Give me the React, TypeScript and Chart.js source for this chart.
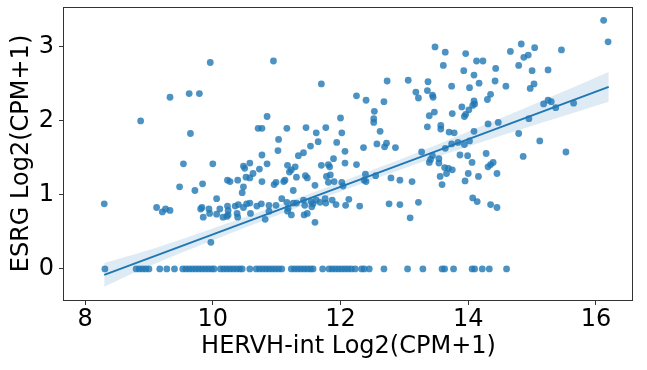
import React, { useEffect, useRef } from "react";
import { Chart, registerables } from "chart.js";

Chart.register(...registerables);

// Axis ticks
const xTicks = [8, 10, 12, 14, 16];
const yTicks = [0, 1, 2, 3];

// Scatter points with non-zero ESRG: [HERVH-int, ESRG]
const scatterPoints: [number, number][] = [
  [9.96, 2.79], [9.63, 2.37], [9.79, 2.37], [9.33, 2.32], [8.87, 2.0], [9.65, 1.83],
  [9.54, 1.42], [10.0, 1.42], [9.48, 1.11], [9.84, 1.15], [9.72, 1.06], [8.3, 0.88],
  [9.12, 0.83], [9.21, 0.77], [9.26, 0.81], [9.33, 0.79], [10.06, 0.95], [9.81, 0.81],
  [9.83, 0.83], [9.94, 0.81], [9.85, 0.7], [9.95, 0.75], [10.06, 0.74], [9.97, 0.36],
  [10.95, 2.81], [11.7, 2.5], [10.85, 2.06], [10.71, 1.9], [10.77, 1.9], [11.16, 1.9],
  [11.46, 1.91], [11.77, 1.91], [12.0, 2.04], [12.02, 1.84], [11.62, 1.84], [11.03, 1.75],
  [11.02, 1.6], [11.65, 1.72], [11.94, 1.71], [11.53, 1.66], [10.77, 1.54], [11.42, 1.57],
  [11.34, 1.53], [12.07, 1.59], [10.85, 1.42], [10.48, 1.39], [10.5, 1.36], [10.58, 1.43],
  [10.63, 1.29], [10.52, 1.24], [10.58, 1.23], [10.73, 1.35], [10.23, 1.2], [10.27, 1.18],
  [10.39, 1.2], [10.48, 1.11], [10.46, 1.03], [10.77, 1.18], [10.96, 1.14], [10.99, 1.17],
  [11.11, 1.18], [11.13, 1.2], [11.17, 1.4], [11.23, 1.34], [11.29, 1.38], [11.2, 1.31],
  [11.31, 1.24], [11.26, 1.06], [11.45, 1.26], [11.48, 1.23], [11.6, 1.13], [11.7, 1.4],
  [11.81, 1.41], [11.83, 1.38], [11.89, 1.49], [11.78, 1.25], [11.84, 1.27], [11.81, 1.17],
  [11.9, 1.18], [12.02, 1.17], [10.16, 0.7], [10.22, 0.71], [10.11, 0.81], [10.24, 0.79],
  [10.35, 0.85], [10.4, 0.87], [10.48, 0.83], [10.53, 0.88], [10.58, 0.89], [10.38, 0.75],
  [10.39, 0.7], [10.59, 0.75], [10.69, 0.85], [10.76, 0.88], [10.82, 0.67], [10.88, 0.86],
  [10.88, 0.78], [10.99, 0.86], [11.08, 0.95], [11.16, 0.9], [11.18, 0.82], [11.17, 0.78],
  [11.26, 0.89], [11.31, 0.89], [11.23, 0.73], [11.42, 0.93], [11.44, 0.86], [11.43, 0.73],
  [11.54, 0.91], [11.57, 0.88], [11.62, 0.93], [11.68, 0.9], [11.76, 0.95], [11.77, 0.89],
  [11.87, 0.93], [11.93, 0.87], [12.08, 0.86], [12.13, 0.94], [11.6, 0.63], [10.23, 0.85],
  [10.24, 0.73], [11.48, 0.75], [11.55, 0.84],
  [13.48, 3.0], [13.64, 2.93], [13.96, 2.91], [14.13, 2.81], [13.61, 2.75], [13.93, 2.68],
  [14.09, 2.62], [12.73, 2.54], [13.06, 2.55], [13.37, 2.53], [13.74, 2.47], [14.02, 2.45],
  [14.17, 2.51], [13.18, 2.39], [13.22, 2.31], [13.36, 2.41], [13.44, 2.35], [13.45, 2.32],
  [12.25, 2.34], [12.4, 2.28], [12.68, 2.26], [12.53, 2.13], [12.52, 2.03], [12.52, 1.98],
  [12.62, 1.86], [12.07, 1.43], [12.36, 1.64], [12.25, 1.41], [12.57, 1.69], [12.69, 1.65],
  [12.72, 1.7], [12.86, 1.64], [13.39, 2.07], [13.47, 2.12], [13.36, 1.92], [13.57, 1.94],
  [13.57, 1.89], [13.7, 1.85], [13.78, 1.84], [13.75, 2.1], [13.9, 2.19], [13.96, 2.09],
  [13.94, 2.06], [14.01, 2.15], [14.07, 2.21], [14.09, 2.27], [14.1, 2.23], [14.09, 1.86],
  [13.27, 1.58], [13.39, 1.44], [13.41, 1.48], [13.44, 1.53], [13.54, 1.49], [13.54, 1.43],
  [13.64, 1.63], [13.74, 1.69], [13.84, 1.71], [13.94, 1.68], [13.87, 1.54], [13.99, 1.53],
  [14.06, 1.44], [13.63, 1.37], [13.69, 1.36], [13.75, 1.34], [13.66, 1.29], [13.56, 1.25],
  [13.59, 1.14], [14.0, 1.29], [13.95, 1.19], [14.16, 1.25], [12.39, 1.28], [12.37, 1.2],
  [12.4, 1.18], [12.55, 1.26], [12.79, 1.23], [12.93, 1.2], [13.12, 1.18], [12.04, 1.12],
  [12.3, 0.85], [12.76, 0.88], [12.93, 0.87], [13.22, 0.9], [13.09, 0.69], [14.07, 0.96],
  [14.14, 0.91], [14.02, 1.73],
  [16.12, 3.36], [16.19, 3.07], [14.83, 3.04], [14.66, 2.94], [15.04, 2.99], [15.46, 2.96],
  [14.87, 2.86], [14.94, 2.89], [14.23, 2.81], [14.43, 2.71], [14.79, 2.75], [15.0, 2.68],
  [15.25, 2.69], [14.42, 2.54], [14.59, 2.47], [14.97, 2.44], [15.03, 2.5], [14.35, 2.36],
  [14.3, 2.29], [15.18, 2.23], [15.25, 2.28], [15.3, 2.26], [15.37, 2.18], [15.65, 2.24],
  [14.95, 2.03], [14.31, 1.96], [14.47, 1.98], [14.79, 1.83], [15.12, 1.73], [15.53, 1.58],
  [14.86, 1.52], [14.28, 1.56], [14.39, 1.44], [14.35, 1.41], [14.31, 1.38], [14.45, 1.29],
  [14.35, 0.87], [14.45, 0.83],
];

// HERVH-int values of samples with ESRG = 0
const zeroEsrgX = [
  8.31, 8.8, 8.85, 8.9, 8.95, 9.0, 9.17, 9.28, 9.4,
  9.53, 9.58, 9.63, 9.68, 9.73, 9.78, 9.83, 9.88, 9.93, 9.98, 10.02,
  10.12, 10.17, 10.22, 10.27, 10.32, 10.37, 10.42, 10.46, 10.58,
  10.68, 10.73, 10.78, 10.83, 10.88, 10.93, 10.98, 11.03, 11.08,
  11.23, 11.28, 11.33, 11.38, 11.43, 11.48, 11.53, 11.57, 11.72,
  11.82, 11.87, 11.92, 11.97, 12.02, 12.07, 12.12, 12.17, 12.23,
  12.33, 12.37, 12.45, 12.68, 13.05, 13.29, 13.59, 13.63, 13.77,
  14.06, 14.1, 14.22, 14.33, 14.6,
];

// Regression line and confidence band
const fitX = [8.3, 16.2];
const fitY = [-0.08, 2.46];
const bandX = [8.3, 9, 10, 11, 12, 13, 14, 15, 16.2];
const bandLow = [-0.24, 0.035, 0.387, 0.723, 1.048, 1.361, 1.653, 1.934, 2.26];
const bandHigh = [0.08, 0.255, 0.547, 0.853, 1.172, 1.501, 1.853, 2.214, 2.66];

const BLUE = "#1f77b4";
const FONT = "'DejaVu Sans', sans-serif";
const FONT_SIZE = 24;

const framePlugin = {
  id: "frame",
  afterDraw(chart: any) {
    const { ctx, chartArea } = chart;
    const { left, top, right, bottom } = chartArea;
    ctx.save();
    ctx.strokeStyle = "#333";
    ctx.lineWidth = 1;
    ctx.strokeRect(left - 0.5, top + 0.5, right - left, bottom - top);
    ctx.restore();
  },
};

const noPad = (s: any) => {
  s.paddingTop = 0;
  s.paddingBottom = 0;
  s.paddingLeft = 0;
  s.paddingRight = 0;
};

export default function App() {
  const ref = useRef<HTMLCanvasElement | null>(null);

  useEffect(() => {
    if (!ref.current) return;
    const points = [
      ...scatterPoints.map(([x, y]) => ({ x, y })),
      ...zeroEsrgX.map((x) => ({ x, y: 0 })),
    ];
    const chart = new Chart(ref.current, {
      type: "scatter",
      data: {
        datasets: [
          {
            type: "scatter",
            data: points,
            backgroundColor: "rgba(31,119,180,0.8)",
            borderWidth: 0,
            pointRadius: 3.4,
            order: 4,
          } as any,
          {
            type: "line",
            data: bandX.map((x, i) => ({ x, y: bandLow[i] })),
            borderWidth: 0,
            borderColor: "rgba(0,0,0,0)",
            pointRadius: 0,
            fill: false,
            tension: 0.3,
            order: 3,
          },
          {
            type: "line",
            data: bandX.map((x, i) => ({ x, y: bandHigh[i] })),
            borderWidth: 0,
            borderColor: "rgba(0,0,0,0)",
            backgroundColor: "rgba(31,119,180,0.15)",
            pointRadius: 0,
            fill: "-1",
            tension: 0.3,
            order: 2,
          },
          {
            type: "line",
            data: fitX.map((x, i) => ({ x, y: fitY[i] })),
            borderColor: BLUE,
            borderWidth: 2,
            pointRadius: 0,
            fill: false,
            order: 1,
          },
        ],
      },
      options: {
        animation: false,
        responsive: false,
        layout: { padding: { top: 7, right: 14, left: 0, bottom: 0 } },
        plugins: {
          legend: { display: false },
          tooltip: { enabled: false },
        },
        scales: {
          x: {
            type: "linear",
            min: 7.67,
            max: 16.58,
            afterBuildTicks: (s: any) => {
              s.ticks = xTicks.map((v) => ({ value: v }));
            },
            afterFit: (s: any) => {
              s.height = 70;
              noPad(s);
            },
            grid: {
              display: true,
              drawOnChartArea: false,
              drawTicks: true,
              tickLength: 5,
              color: "#333",
            },
            border: { display: false },
            ticks: {
              color: "#000",
              padding: 0,
              font: { family: FONT, size: FONT_SIZE },
              maxRotation: 0,
            },
            title: {
              display: true,
              text: "HERVH-int Log2(CPM+1)",
              color: "#000",
              font: { family: FONT, size: FONT_SIZE },
              padding: { top: 0, bottom: 9 },
            },
          },
          y: {
            type: "linear",
            min: -0.42,
            max: 3.54,
            afterBuildTicks: (s: any) => {
              s.ticks = yTicks.map((v) => ({ value: v }));
            },
            afterFit: (s: any) => {
              s.width = 64;
              noPad(s);
            },
            grid: {
              display: true,
              drawOnChartArea: false,
              drawTicks: true,
              tickLength: 5,
              color: "#333",
            },
            border: { display: false },
            ticks: {
              color: "#000",
              padding: 5,
              font: { family: FONT, size: FONT_SIZE },
            },
            title: {
              display: true,
              text: "ESRG Log2(CPM+1)",
              color: "#000",
              font: { family: FONT, size: FONT_SIZE },
              padding: { top: 7, bottom: 0 },
            },
          },
        },
      },
      plugins: [framePlugin],
    });
    return () => chart.destroy();
  }, []);

  return (
    <div style={{ position: "absolute", left: 0, top: 0, width: 647, height: 370, background: "#fff" }}>
      <canvas ref={ref} width={647} height={370} />
    </div>
  );
}
